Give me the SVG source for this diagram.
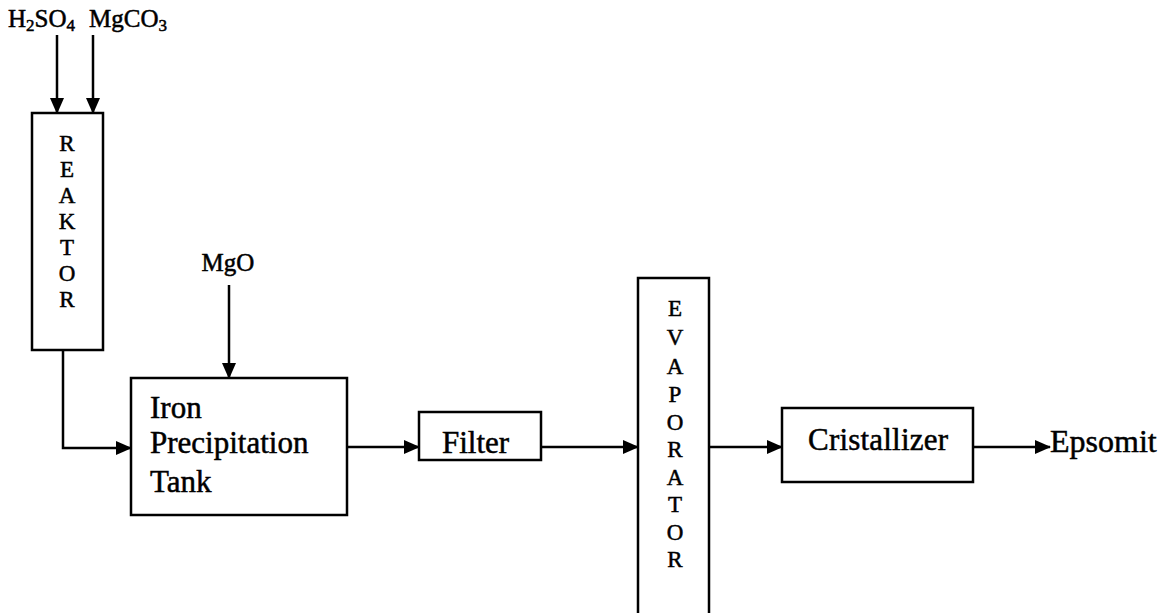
<svg xmlns="http://www.w3.org/2000/svg" width="1163" height="613" viewBox="0 0 1163 613">
<style>
.box{fill:#fff;stroke:#000;stroke-width:2.5}
.ln{fill:none;stroke:#000;stroke-width:2.5}
text{font-family:"Liberation Serif","Times New Roman",serif;fill:#000;stroke:#000;stroke-width:0.5}
.lbl{font-size:25px}
.sub{font-size:17px}
.big{font-size:31px}
.v{font-size:23px;text-anchor:middle}
</style>
<defs>
<marker id="ah" markerWidth="16" markerHeight="14" refX="15" refY="7" orient="auto" markerUnits="userSpaceOnUse" viewBox="0 0 16 14">
<path d="M0,0 L16,7 L0,14 Z" fill="#000"/>
</marker>
</defs>
<g id="inputs">
<text class="lbl" x="8" y="27">H<tspan class="sub" dy="4">2</tspan><tspan dy="-4">SO</tspan><tspan class="sub" dy="4">4</tspan></text>
<text class="lbl" x="89" y="27">MgCO<tspan class="sub" dy="4">3</tspan></text>
<text class="lbl" x="228" y="271" text-anchor="middle">MgO</text>
</g>
<g id="reaktor">
<rect class="box" x="32" y="113" width="71" height="237"/>
<text class="v" x="67" y="151">R</text>
<text class="v" x="67" y="177">E</text>
<text class="v" x="67" y="203">A</text>
<text class="v" x="67" y="229">K</text>
<text class="v" x="67" y="255">T</text>
<text class="v" x="67" y="281">O</text>
<text class="v" x="67" y="307">R</text>
</g>
<g id="iron-tank">
<rect class="box" x="131" y="378" width="216" height="137"/>
<text class="big" x="150" y="418">Iron</text>
<text class="big" x="150" y="453">Precipitation</text>
<text class="big" x="150" y="492">Tank</text>
</g>
<g id="filter">
<rect class="box" x="419" y="412" width="122" height="48"/>
<text class="big" x="442" y="453">Filter</text>
</g>
<g id="evaporator">
<rect class="box" x="638" y="278" width="71" height="345"/>
<text class="v" x="675" y="316">E</text>
<text class="v" x="675" y="345">V</text>
<text class="v" x="675" y="374">A</text>
<text class="v" x="675" y="402">P</text>
<text class="v" x="675" y="430">O</text>
<text class="v" x="675" y="457">R</text>
<text class="v" x="675" y="485">A</text>
<text class="v" x="675" y="512">T</text>
<text class="v" x="675" y="540">O</text>
<text class="v" x="675" y="567">R</text>
</g>
<g id="cristallizer">
<rect class="box" x="782" y="408" width="191" height="74"/>
<text class="big" x="808" y="450" textLength="140">Cristallizer</text>
</g>
<g id="output">
<text class="big" x="1050" y="452" style="font-size:32px">Epsomit</text>
</g>
<g id="connectors">
<line class="ln" x1="57" y1="35" x2="57" y2="113" marker-end="url(#ah)"/>
<line class="ln" x1="93" y1="35" x2="93" y2="113" marker-end="url(#ah)"/>
<line class="ln" x1="229" y1="285" x2="229" y2="378" marker-end="url(#ah)"/>
<path class="ln" d="M63,350 V448 H131" marker-end="url(#ah)"/>
<line class="ln" x1="347" y1="447" x2="419" y2="447" marker-end="url(#ah)"/>
<line class="ln" x1="541" y1="447" x2="638" y2="447" marker-end="url(#ah)"/>
<line class="ln" x1="709" y1="447" x2="782" y2="447" marker-end="url(#ah)"/>
<line class="ln" x1="973" y1="447" x2="1050" y2="447" marker-end="url(#ah)"/>
</g>
</svg>
